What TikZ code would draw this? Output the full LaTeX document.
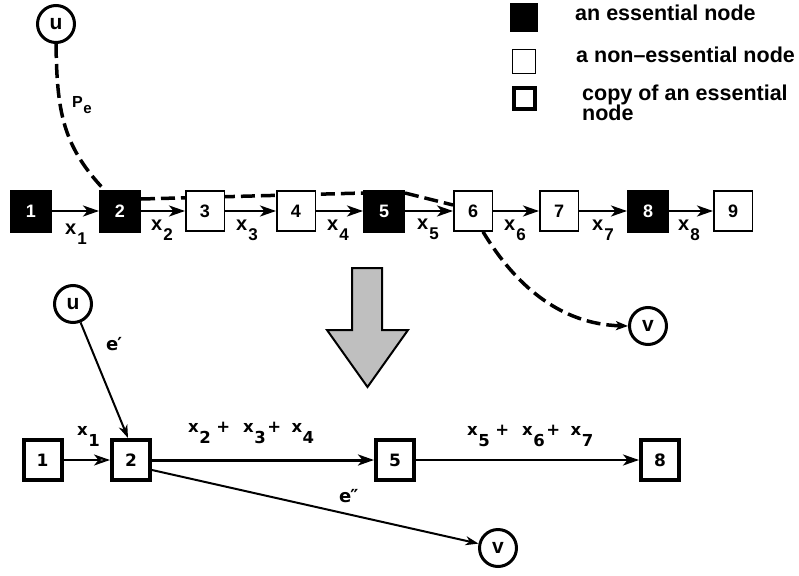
\documentclass[tikz,border=0pt]{standalone}
\usepackage{fontspec}
\setmainfont{Liberation Sans}
\newfontfamily\dvs{DejaVu Sans}
\usetikzlibrary{arrows.meta}
\pgfdeclarelayer{background}
\pgfsetlayers{background,main}
\newcommand\tsub[1]{\kern1pt\raisebox{-10pt}{\fontsize{17}{17}\selectfont#1}}
\newcommand\bsub[1]{\kern0.5pt\raisebox{-11pt}{#1}}
\tikzset{
  ess/.style={rectangle, draw=black, fill=black, text=white, line width=1pt, minimum width=41pt, minimum height=42pt, inner sep=0pt, font=\fontsize{18}{18}\selectfont\bfseries},
  noness/.style={rectangle, draw=black, fill=white, line width=1.5pt, minimum width=38.5pt, minimum height=40pt, inner sep=0pt, font=\fontsize{18}{18}\selectfont\bfseries},
  copybox/.style={rectangle, draw=black, fill=white, line width=4pt, minimum width=38pt, minimum height=40pt, inner sep=0pt, font=\dvs\fontsize{17}{17}\selectfont\bfseries},
  endpt/.style={circle, draw=black, fill=white, line width=3pt, minimum size=37pt, inner sep=0pt, font=\fontsize{21}{21}\selectfont\bfseries},
  tip/.style={-{Stealth[length=16pt,width=11pt,inset=4.5pt,fill=gray]}},
  chain/.style={line width=2.5pt, tip},
  walk/.style={line width=3.5pt, dash pattern=on 14pt off 6pt},
  tlbl/.style={anchor=base west, inner sep=0pt, font=\fontsize{20}{20}\selectfont\bfseries},
  blbl/.style={anchor=base west, inner sep=0pt, font=\dvs\fontsize{16.5}{16.5}\selectfont\bfseries},
  legtext/.style={anchor=base west, inner sep=0pt, font=\fontsize{21.5}{21.5}\selectfont\bfseries},
}
\begin{document}
\begin{tikzpicture}[x=1pt,y=-1pt]
\useasboundingbox (0,0) rectangle (799,575);

% ---------- top chain ----------
\node[ess]    (n1) at (31,211)  {1};
\node[ess]    (n2) at (120,211) {2};
\node[noness] (n3) at (205,211) {3};
\node[noness] (n4) at (296,211) {4};
\node[ess]    (n5) at (384,211) {5};
\node[noness] (n6) at (473,211) {6};
\node[noness] (n7) at (559,211) {7};
\node[ess]    (n8) at (648,211) {8};
\node[noness] (n9) at (733,211) {9};

\node[endpt] (u1) at (56,24)  {u};
\node[endpt] (v1) at (648,326) {v};

\draw[chain] (n1) -- (n2);
\draw[chain] (n2) -- (n3);
\draw[chain] (n3) -- (n4);
\draw[chain] (n4) -- (n5);
\draw[chain] (n5) -- (n6);
\draw[chain] (n6) -- (n7);
\draw[chain] (n7) -- (n8);
\draw[chain] (n8) -- (n9);

\node[tlbl] (l1) at (65,234) {x\tsub{1}};
\node[tlbl] (l2) at (151,230) {x\tsub{2}};
\node[tlbl] (l3) at (236,230) {x\tsub{3}};
\node[tlbl] (l4) at (327,230) {x\tsub{4}};
\node[tlbl] (l5) at (417,229) {x\tsub{5}};
\node[tlbl] (l6) at (504,230) {x\tsub{6}};
\node[tlbl] (l7) at (592,230) {x\tsub{7}};
\node[tlbl] (l8) at (678,230) {x\tsub{8}};

\node[anchor=base west, inner sep=0pt, font=\fontsize{16}{16}\selectfont\bfseries] (pe) at (72,107) {P\kern0.5pt\raisebox{-6pt}{\fontsize{15}{15}\selectfont e}};

\begin{pgfonlayer}{background}
\draw[walk] (u1.south) .. controls (57,110) and (62,145) .. ([xshift=-16pt]n2.north);
\draw[walk] ([yshift=12pt]n2.east) -- ([yshift=18pt]n5.west);
\draw[walk] ([yshift=18pt]n5.east) -- ([yshift=6pt]n6.west);
\draw[walk, -{Stealth[length=12pt,width=9pt,inset=3pt,fill=gray]}] ([xshift=10pt]n6.south) .. controls (515,285) and (560,324) .. (v1.west);
\end{pgfonlayer}

% ---------- legend ----------
\node[ess, minimum width=27pt, minimum height=28pt] (k1) at (523.5,18) {};
\node[noness, line width=1.2pt, minimum width=23pt, minimum height=24pt] (k2) at (524,61.5) {};
\node[copybox, minimum width=21pt, minimum height=21pt] (k3) at (524,98.5) {};
\node[legtext] (t1) at (575,21) {an essential node};
\node[legtext] (t2) at (576,63) {a non\textendash essential node};
\node[legtext] (t3) at (582,100) {copy of an essential};
\node[legtext] (t4) at (582,120) {node};

% ---------- big arrow ----------
\draw[line width=2pt, fill=gray!50, line join=miter] (352,268) -- (382,268) -- (382,330) -- (408,330) -- (367.5,387) -- (327,330) -- (352,330) -- cycle;

% ---------- bottom graph ----------
\node[copybox] (b1) at (42.5,460) {1};
\node[copybox] (b2) at (131,460) {2};
\node[copybox] (b5) at (395,460) {5};
\node[copybox] (b8) at (660,460) {8};
\node[endpt] (u2) at (73,304) {u};
\node[endpt] (v2) at (498,548) {v};

\draw[line width=2pt, tip] (b1) -- (b2);
\draw[line width=3pt, tip] (b2) -- (b5);
\draw[line width=2.5pt, tip] (b5) -- (b8);
\draw[line width=2pt, -{Stealth[length=13pt,width=9pt,inset=4pt,fill=white]}] (u2) -- ([xshift=-3pt]b2.north);
\draw[line width=2pt, -{Stealth[length=13pt,width=9pt,inset=4pt,fill=white]}] ([yshift=-10pt]b2.east) -- (v2);

\node[blbl] (bl1) at (77,435) {x\bsub{1}};
\node[blbl] (bl2) at (188,432) {x\bsub{2}\kern5.5pt+\kern13pt x\bsub{3}\kern1.5pt+\kern10.5pt x\bsub{4}};
\node[blbl] (bl3) at (467,435) {x\bsub{5}\kern5.5pt+\kern13pt x\bsub{6}\kern1.5pt+\kern10.5pt x\bsub{7}};
\node[blbl, font=\dvs\fontsize{18}{18}\selectfont\bfseries] (ep) at (106,350) {e\kern-1pt′};
\node[blbl, font=\dvs\fontsize{18}{18}\selectfont\bfseries] (epp) at (339,502) {e\kern-1pt″};
\end{tikzpicture}
\end{document}
